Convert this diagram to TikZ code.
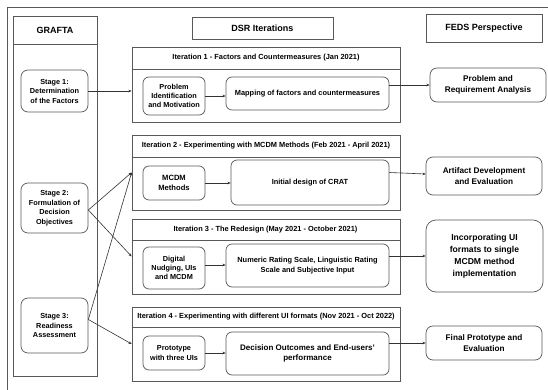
\documentclass[tikz,border=0pt]{standalone}
\usepackage{fontspec}
\setmainfont{Liberation Sans}
\usetikzlibrary{arrows.meta}
\begin{document}
\begin{tikzpicture}[x=1pt,y=-1pt,
  ln/.style={draw=black!65, line width=0.7pt},
  sqbox/.style={ln, align=center, inner sep=0pt},
  rbox/.style={ln, rounded corners=7pt, align=center, inner sep=1pt, font=\bfseries\fontsize{7.3}{9.5}\selectfont},
  ibox/.style={ln, rounded corners=6pt, align=center, inner sep=1pt, font=\bfseries\fontsize{7.3}{9.3}\selectfont},
  wbox/.style={ln, rounded corners=6pt, align=center, inner sep=1pt, font=\bfseries\fontsize{7.4}{10}\selectfont},
  fbox/.style={ln, rounded corners=7pt, align=center, inner sep=1pt, font=\bfseries\fontsize{8.2}{10.7}\selectfont},
  hdr/.style={font=\bfseries\fontsize{9}{11}\selectfont},
  ttl/.style={font=\bfseries\fontsize{7.4}{9}\selectfont, inner sep=0pt},
  arr/.style={draw=black!80, line width=0.6pt, -{Stealth[length=3.2pt,width=2.6pt]}},
]
\useasboundingbox (0,0) rectangle (548,390);
\fill[white] (0,0) rectangle (548,390);
\draw[ln] (7,395) -- (7,7) -- (555,7);

% GRAFTA column
\node[sqbox, minimum width=84, minimum height=360] (graf) at (55,196) {};
\draw[ln] (graf.west |- 0,44) -- (graf.east |- 0,44);
\node[hdr] (grafT) at (55,30) {GRAFTA};

\node[rbox, minimum width=67, minimum height=42] (s1) at (54.5,91) {Stage 1:\\Determination\\of the Factors};
\node[rbox, minimum width=67, minimum height=50] (s2) at (54.5,208) {Stage 2:\\Formulation of\\Decision\\Objectives};
\node[rbox, minimum width=67, minimum height=55] (s3) at (54.5,325.5) {Stage 3:\\Readiness\\Assessment};

% headers
\node[sqbox, hdr, minimum width=141, minimum height=22] (dsr) at (262.5,28) {DSR Iterations};
\node[sqbox, hdr, minimum width=116, minimum height=28] (feds) at (484,28) {FEDS Perspective};

% Iteration 1
\node[sqbox, minimum width=268, minimum height=75] (it1) at (266,84.5) {};
\draw[ln] (it1.west |- 0,69) -- (it1.east |- 0,69);
\node[ttl] (t1) at (266,58) {Iteration 1 - Factors and Countermeasures (Jan 2021)};
\node[ibox, minimum width=62, minimum height=38] (pi) at (174,96) {Problem\\Identification\\and Motivation};
\node[wbox, minimum width=163, minimum height=33] (map) at (307.5,93.5) {Mapping of factors and countermeasures};

% Iteration 2
\node[sqbox, minimum width=268, minimum height=75] (it2) at (266,172.5) {};
\draw[ln] (it2.west |- 0,157) -- (it2.east |- 0,157);
\node[ttl] (t2) at (266,146) {Iteration 2 - Experimenting with MCDM Methods (Feb 2021 - April 2021)};
\node[ibox, minimum width=62, minimum height=34, font=\bfseries\fontsize{7.6}{10}\selectfont] (mc) at (174,183) {MCDM\\Methods};
\node[wbox, minimum width=158, minimum height=45] (crat) at (310,182.5) {Initial design of CRAT};

% Iteration 3
\node[sqbox, minimum width=268, minimum height=75] (it3) at (266,256.5) {};
\draw[ln] (it3.west |- 0,240) -- (it3.east |- 0,240);
\node[ttl] (t3) at (265.5,229.5) {Iteration 3 - The Redesign (May 2021 - October 2021)};
\node[ibox, minimum width=62, minimum height=42] (dn) at (174,268) {Digital\\Nudging, UIs\\and MCDM};
\node[wbox, minimum width=163, minimum height=43] (num) at (307.5,265.5) {Numeric Rating Scale, Linguistic Rating\\Scale and Subjective Input};

% Iteration 4
\node[sqbox, minimum width=268, minimum height=74] (it4) at (266,344) {};
\draw[ln] (it4.west |- 0,327) -- (it4.east |- 0,327);
\node[ttl] (t4) at (266,317) {Iteration 4 - Experimenting with different UI formats (Nov 2021 - Oct 2022)};
\node[ibox, minimum width=62, minimum height=34] (pro) at (174,353) {Prototype\\with three UIs};
\node[wbox, minimum width=163, minimum height=43, font=\bfseries\fontsize{8}{10.5}\selectfont] (dec) at (307.5,353.5) {Decision Outcomes and End-users'\\performance};

% FEDS column
\node[fbox, minimum width=116, minimum height=34] (f1) at (488,85) {Problem and\\Requirement Analysis};
\node[fbox, minimum width=116, minimum height=38] (f2) at (484,176) {Artifact Development\\and Evaluation};
\node[fbox, rounded corners=10pt, minimum width=117, minimum height=72, font=\bfseries\fontsize{8.6}{12}\selectfont] (f3) at (484.5,256) {Incorporating UI\\formats to single\\MCDM method\\implementation};
\node[fbox, minimum width=116, minimum height=34] (f4) at (484,343) {Final Prototype and\\Evaluation};

% arrows: GRAFTA -> iterations
\draw[arr] (s1.east) -- (s1.east -| it1.west);
\draw[arr] ([yshift=-2]s2.east) -- (it2.west);
\draw[arr] ([yshift=-2]s2.east) -- (it3.west);
\draw[arr] ([yshift=6]s3.east) -- (it2.west);
\draw[arr] ([yshift=6]s3.east) -- (it4.west);

% arrows inside iterations
\draw[arr] (pi.east) -- (pi.east -| map.west);
\draw[arr] (mc.east) -- (mc.east -| crat.west);
\draw[arr] ([yshift=3]dn.east) -- ([yshift=3]dn.east -| num.west);
\draw[arr] (pro.east) -- (pro.east -| dec.west);

% arrows to FEDS
\draw[arr] (f1.west -| map.east) -- (f1.west);
\draw[arr] ([yshift=10]crat.east) -- ([yshift=2]f2.west);
\draw[arr] (f3.west -| num.east) -- (f3.west);
\draw[arr] (f4.west -| dec.east) -- (f4.west);
\end{tikzpicture}
\end{document}
